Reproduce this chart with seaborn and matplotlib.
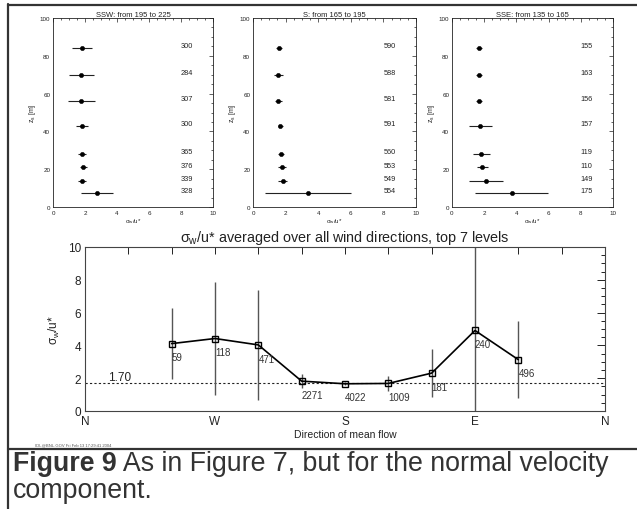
import numpy as np
import pandas as pd
import matplotlib
matplotlib.use("Agg")
import matplotlib.pyplot as plt
import seaborn as sns
from matplotlib.ticker import MultipleLocator, FixedLocator

# ---------------- data ----------------
heights = [84, 70, 56, 43, 28, 21, 14, 7.6]

ssw_title = "SSW: from 195 to 225"
ssw_vals = [1.81, 1.77, 1.77, 1.81, 1.83, 1.90, 1.83, 2.75]
ssw_errs = [0.60, 0.77, 0.86, 0.40, 0.25, 0.23, 0.25, 1.03]
ssw_counts = [300, 284, 307, 300, 365, 376, 339, 328]

s_title = "S: from 165 to 195"
s_vals = [1.57, 1.55, 1.55, 1.67, 1.71, 1.78, 1.82, 3.37]
s_errs = [0.18, 0.28, 0.23, 0.15, 0.20, 0.23, 0.27, 2.65]
s_counts = [590, 588, 581, 591, 560, 553, 549, 554]

sse_title = "SSE: from 135 to 165"
sse_vals = [1.68, 1.68, 1.68, 1.76, 1.82, 1.88, 2.09, 3.71]
sse_errs = [0.20, 0.20, 0.20, 0.71, 0.52, 0.34, 1.05, 2.26]
sse_counts = [155, 163, 156, 157, 119, 110, 149, 175]

directions = [300, 270, 240, 210, 180, 150, 120, 90, 60]
avg_vals = [4.11, 4.42, 4.03, 1.82, 1.66, 1.68, 2.31, 4.91, 3.13]
avg_errs = [2.15, 3.47, 3.35, 0.43, 0.10, 0.43, 1.48, 6.0, 2.35]
avg_counts = [59, 118, 471, 2271, 4022, 1009, 181, 240, 496]
ref_level = 1.70
dir_tick_labels = ["N", "W", "S", "E", "N"]

main_title = r"$\sigma_w$/u* averaged over all wind directions, top 7 levels"
caption_bold = "Figure 9"
caption_rest = " As in Figure 7, but for the normal velocity"
caption_line2 = "component."
stamp = "IDL@BNL.GOV Fri Feb 13 17:29:41 2004"

# ---------------- style ----------------
sns.set_theme(style="white")
plt.rcParams["font.family"] = ["Liberation Sans", "DejaVu Sans"]
plt.rcParams["mathtext.fontset"] = "custom"
plt.rcParams["mathtext.rm"] = "Liberation Sans"
plt.rcParams["mathtext.it"] = "Liberation Sans"

W, H = 637, 510
fig = plt.figure(figsize=(W / 100, H / 100), dpi=100)
fig.patch.set_facecolor("white")


def ax_at(l, t, r, b):
    return fig.add_axes([l / W, 1 - b / H, (r - l) / W, (b - t) / H])


ink = "#222222"

panels = [
    (ssw_title, ssw_vals, ssw_errs, ssw_counts, (53, 19, 213, 208)),
    (s_title, s_vals, s_errs, s_counts, (253, 19, 416, 208)),
    (sse_title, sse_vals, sse_errs, sse_counts, (452, 19, 613, 208)),
]

for title, vals, errs, counts, box in panels:
    ax = ax_at(*box)
    df = pd.DataFrame({"x": vals, "z": heights})
    ax.errorbar(vals, heights, xerr=errs, fmt="none", ecolor=ink, elinewidth=0.8, capsize=0)
    sns.scatterplot(data=df, x="x", y="z", ax=ax, color="black", s=10, edgecolor="black", linewidth=0.3, zorder=3)
    for v, h, c in zip(vals, heights, counts):
        ax.text(8.0, h + 1.2, str(c), fontsize=5.3, color=ink, ha="left", va="center")
    ax.set_xlim(0, 10)
    ax.set_ylim(0, 100)
    ax.xaxis.set_major_locator(MultipleLocator(2))
    ax.xaxis.set_minor_locator(MultipleLocator(0.5))
    ax.yaxis.set_major_locator(MultipleLocator(20))
    ax.yaxis.set_minor_locator(MultipleLocator(5))
    ax.tick_params(which="both", direction="in", top=True, right=True, labelsize=4.5,
                   colors=ink, width=0.5, pad=2)
    ax.tick_params(which="major", length=3)
    ax.tick_params(which="minor", length=1.5)
    for sp in ax.spines.values():
        sp.set_linewidth(0.6)
        sp.set_color(ink)
    ax.set_title(title, fontsize=5.5, pad=1.5, color=ink)
    ax.set_xlabel(r"$\sigma_w$/u*", fontsize=4.5, labelpad=1, color=ink)
    ax.set_ylabel(r"z$_s$ [m]", fontsize=5, labelpad=1, color=ink)

# ---------------- bottom panel ----------------
ax = ax_at(85, 248, 605, 412)
pos = [360 - d for d in directions]
dfa = pd.DataFrame({"pos": pos, "val": avg_vals})
ax.axhline(ref_level, color=ink, lw=0.8, ls=(0, (2, 2)), zorder=1)
ax.errorbar(pos, avg_vals, yerr=avg_errs, fmt="none", ecolor="#555555", elinewidth=1.0, capsize=0, zorder=2)
sns.lineplot(data=dfa, x="pos", y="val", ax=ax, color="black", lw=1.2, sort=False,
             marker="s", markersize=5, markerfacecolor="none", markeredgecolor="black",
             markeredgewidth=1.0, zorder=3)
for p, v, c in zip(pos, avg_vals, avg_counts):
    ax.text(p, v - 0.83, str(c), fontsize=7, color="#333333", ha="left", va="center")
ax.text(16, ref_level + 0.4, f"{ref_level:.2f}", fontsize=8.5, color=ink, ha="left", va="center")

ax.set_xlim(0, 360)
ax.set_ylim(0, 10)
ax.xaxis.set_major_locator(FixedLocator([0, 90, 180, 270, 360]))
ax.set_xticklabels(dir_tick_labels)
ax.xaxis.set_minor_locator(MultipleLocator(30))
ax.yaxis.set_major_locator(MultipleLocator(2))
ax.yaxis.set_minor_locator(MultipleLocator(0.5))
ax.tick_params(which="both", direction="in", top=True, right=True, colors=ink, labelsize=8.5, width=0.7)
ax.tick_params(which="major", length=6, pad=3)
ax.tick_params(axis="x", which="major", length=5)
ax.tick_params(axis="x", which="minor", length=5)
ax.tick_params(axis="y", which="minor", length=3)
for sp in ax.spines.values():
    sp.set_linewidth(0.8)
    sp.set_color("#444444")
ax.set_title(main_title, fontsize=10.4, pad=4, color=ink)
ax.set_xlabel("Direction of mean flow", fontsize=7.5, labelpad=1, color=ink)
ax.set_ylabel(r"$\sigma_w$/u*", fontsize=8.5, labelpad=4, color=ink)

fig.text(35 / W, 1 - 445 / H, stamp, fontsize=3, color="#555555", ha="left", va="center")

# ---------------- frame and caption ----------------
frame = "#333333"
fig.add_artist(plt.Line2D([7.5 / W, 7.5 / W], [0, 1 - 5 / H], color=frame, lw=1.6, transform=fig.transFigure))
fig.add_artist(plt.Line2D([7.5 / W, 1], [1 - 6 / H, 1 - 6 / H], color=frame, lw=1.6, transform=fig.transFigure))
fig.add_artist(plt.Line2D([7.5 / W, 1], [1 - 450 / H, 1 - 450 / H], color=frame, lw=1.6, transform=fig.transFigure))

cap_size = 19.3
t1 = fig.text(13 / W, 1 - 464 / H, caption_bold, fontsize=cap_size, fontweight="bold",
              color="#333333", ha="left", va="center")
fig.canvas.draw()
bb = t1.get_window_extent()
fig.text(bb.x1 / W, 1 - 464 / H, caption_rest, fontsize=cap_size, color="#333333", ha="left", va="center")
fig.text(13 / W, 1 - 491 / H, caption_line2, fontsize=cap_size, color="#333333", ha="left", va="center")

fig.savefig("out.png", dpi=100, facecolor="white")
